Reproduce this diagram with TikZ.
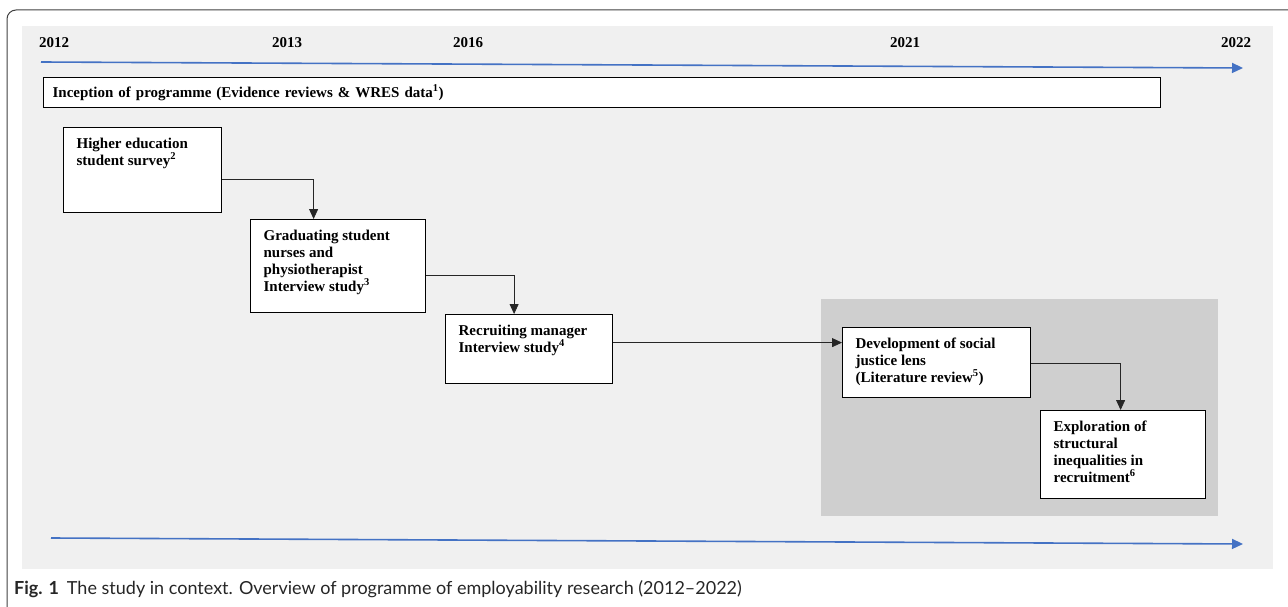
\documentclass[tikz,border=0pt]{standalone}
\usepackage{fontspec}
\setmainfont{Liberation Serif}
\newfontfamily\capfont{Lato}
\usetikzlibrary{arrows.meta, positioning}

\definecolor{tblue}{HTML}{4472C4}
\newcommand{\stagetext}[3]{\parbox[t][#2][t]{#1}{\raggedright #3}}

\begin{document}
\begin{tikzpicture}[x=1pt, y=-1pt, font=\fontsize{15}{17}\selectfont\bfseries,
  stage/.style={draw, fill=white, anchor=north west, inner xsep=13pt, inner ysep=10pt, line width=1.2pt},
  year/.style={anchor=base, inner sep=0pt},
  conn/.style={-{Triangle[length=10pt, width=9pt]}, line width=0.8pt, black!85},
  tline/.style={-{Triangle[length=11pt, width=10pt]}, line width=1.6pt, tblue}]
\useasboundingbox (0,0) rectangle (1288,607);
% Frame and panels
\draw[black!75, line width=1pt, rounded corners=9pt] (7,607) -- (7,10) -- (1288,10);
\fill[black!6] (22,26) rectangle (1273,569);
\fill[black!19] (821,299) rectangle (1218,516);
% Timeline
\node[year] (y2012) at (54,48) {2012};
\node[year] (y2013) at (287,48) {2013};
\node[year] (y2016) at (468,48) {2016};
\node[year] (y2021) at (905,48) {2021};
\node[year] (y2022) at (1236,48) {2022};
\coordinate (ttop0) at (41,62);
\coordinate (ttop1) at (1243,68);
\coordinate (tbot0) at (51,538);
\coordinate (tbot1) at (1243,544);
\draw[tline] (ttop0) -- (ttop1);
\draw[tline] (tbot0) -- (tbot1);
% Studies
\node[draw, fill=white, anchor=north west, line width=1.2pt, inner xsep=9pt, text width=1099pt,
      minimum height=30pt, align=left] (incep) at (43,77)
      {Inception of programme (Evidence reviews \& WRES data\textsuperscript{1})};
\node[stage] (survey) at (63,127) {\stagetext{132pt}{65pt}{Higher education\\ student survey\textsuperscript{2}}};
\node[stage] (grad) at (250,219) {\stagetext{149pt}{73pt}{Graduating student\\ nurses and\\ physiotherapist\\ Interview study\textsuperscript{3}}};
\node[stage] (recruit) at (445,314) {\stagetext{141pt}{49pt}{Recruiting manager\\ Interview study\textsuperscript{4}}};
\node[stage] (lens) at (842,327) {\stagetext{162pt}{50pt}{Development of social\\ justice lens\\ (Literature review\textsuperscript{5})}};
\node[stage] (explore) at (1040,410) {\stagetext{139pt}{68pt}{Exploration of\\ structural\\ inequalities in\\ recruitment\textsuperscript{6}}};
\draw[conn] ([yshift=-9.5pt]survey.east) -| ([xshift=-24.5pt]grad.north);
\draw[conn] ([yshift=-9.5pt]grad.east) -| ([xshift=-15pt]recruit.north);
\draw[conn] ([yshift=6.5pt]recruit.east) -- ([yshift=6.5pt]recruit.east -| lens.west);
\draw[conn] ([yshift=-1pt]lens.east) -| ([xshift=-2.5pt]explore.north);
% Caption
\node[anchor=base west, inner sep=0pt, font=\capfont\fontsize{18}{21}\selectfont, text=black!85] (caption) at (14,594)
      {\textbf{Fig. 1}\hspace{8pt}The study in context. Overview of programme of employability research (2012–2022)};
\end{tikzpicture}
\end{document}
